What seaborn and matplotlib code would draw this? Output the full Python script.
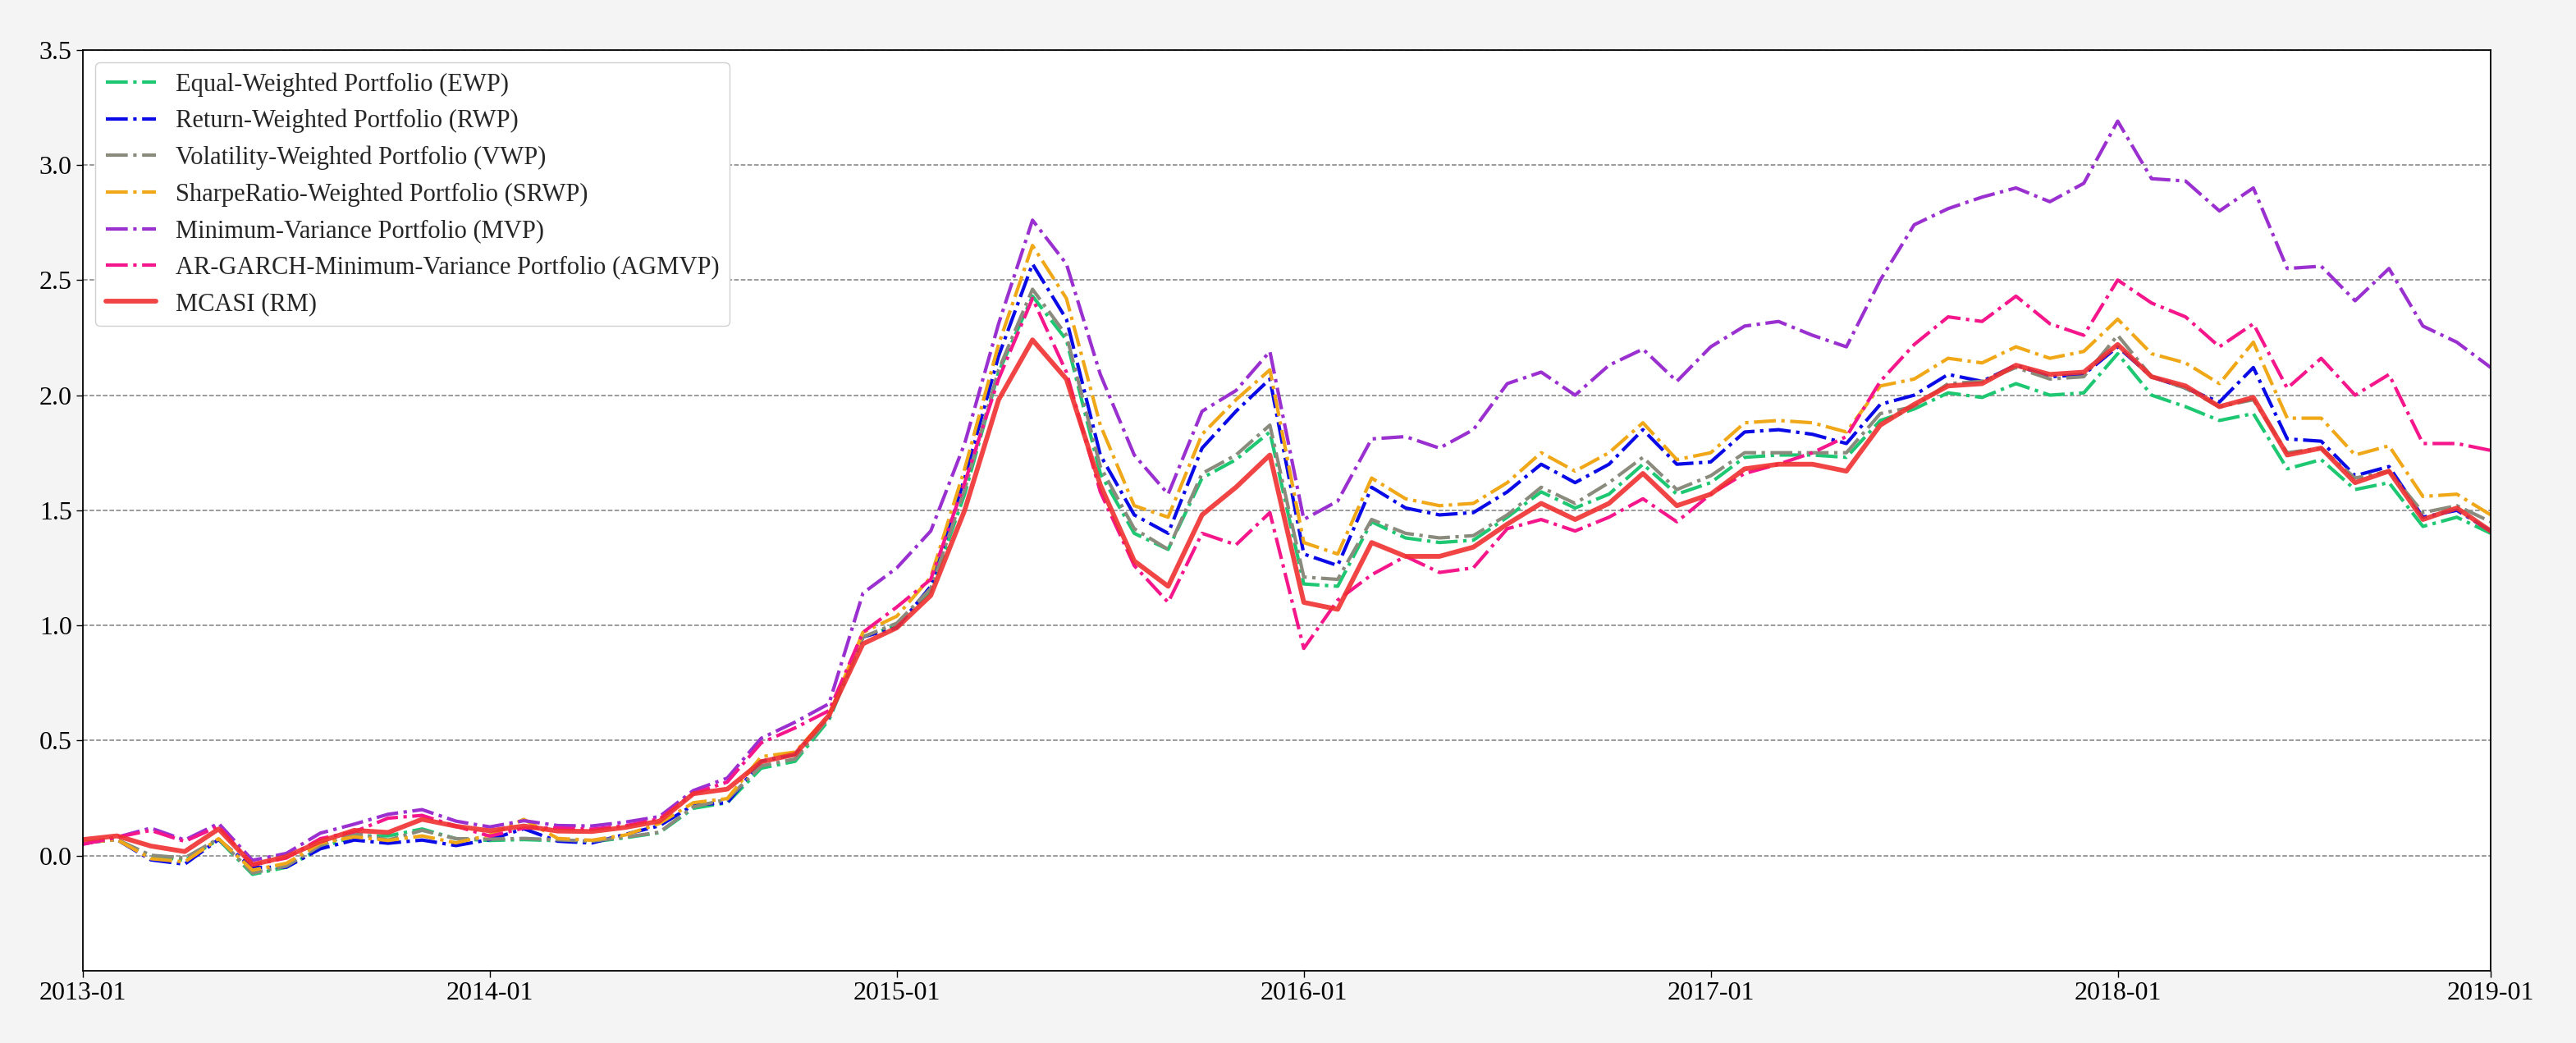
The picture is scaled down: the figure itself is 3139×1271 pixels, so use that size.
import numpy as np
import pandas as pd
import matplotlib
matplotlib.use("Agg")
import matplotlib.pyplot as plt
import seaborn as sns


# ── Data (cumulative returns, month-end 2013-01 .. 2018-12) ──────────────────
months = pd.date_range("2013-01-01", "2018-12-01", freq="MS").strftime("%Y-%m").tolist()

ewp = [0.056, 0.07, 0.0, -0.02, 0.07, -0.081, -0.05, 0.032, 0.086, 0.086, 0.116, 0.074,
       0.066, 0.07, 0.065, 0.06, 0.078, 0.10, 0.206, 0.23, 0.38, 0.41, 0.59, 0.95,
       1.00, 1.15, 1.57, 2.10, 2.43, 2.24, 1.66, 1.40, 1.33, 1.64, 1.72, 1.84,
       1.18, 1.17, 1.45, 1.38, 1.36, 1.37, 1.47, 1.58, 1.51, 1.57, 1.70, 1.57,
       1.62, 1.73, 1.74, 1.74, 1.73, 1.89, 1.94, 2.01, 1.99, 2.05, 2.00, 2.01,
       2.18, 2.00, 1.95, 1.89, 1.92, 1.68, 1.72, 1.59, 1.62, 1.43, 1.47, 1.40]

rwp = [0.056, 0.07, -0.018, -0.037, 0.07, -0.051, -0.05, 0.03, 0.068, 0.054, 0.068, 0.044,
       0.07, 0.117, 0.063, 0.055, 0.093, 0.13, 0.22, 0.23, 0.41, 0.44, 0.60, 0.95,
       0.99, 1.17, 1.64, 2.17, 2.57, 2.33, 1.74, 1.48, 1.40, 1.77, 1.93, 2.07,
       1.31, 1.26, 1.60, 1.51, 1.48, 1.49, 1.58, 1.70, 1.62, 1.70, 1.85, 1.70,
       1.71, 1.84, 1.85, 1.83, 1.79, 1.96, 2.00, 2.09, 2.06, 2.13, 2.08, 2.09,
       2.21, 2.08, 2.03, 1.97, 2.12, 1.81, 1.80, 1.65, 1.69, 1.47, 1.50, 1.41]

vwp = [0.056, 0.07, 0.002, -0.01, 0.074, -0.075, -0.045, 0.044, 0.098, 0.068, 0.11, 0.074,
       0.072, 0.075, 0.069, 0.063, 0.081, 0.102, 0.212, 0.245, 0.39, 0.42, 0.60, 0.95,
       1.01, 1.16, 1.59, 2.11, 2.46, 2.26, 1.69, 1.42, 1.33, 1.66, 1.74, 1.87,
       1.21, 1.20, 1.46, 1.40, 1.38, 1.39, 1.48, 1.60, 1.53, 1.62, 1.73, 1.59,
       1.65, 1.75, 1.75, 1.75, 1.75, 1.92, 1.95, 2.05, 2.06, 2.12, 2.07, 2.08,
       2.26, 2.08, 2.03, 1.95, 1.98, 1.75, 1.77, 1.64, 1.67, 1.49, 1.52, 1.45]

srwp = [0.056, 0.07, -0.013, -0.027, 0.074, -0.063, -0.033, 0.054, 0.082, 0.066, 0.086, 0.056,
        0.09, 0.158, 0.075, 0.067, 0.09, 0.14, 0.23, 0.248, 0.43, 0.45, 0.61, 0.97,
        1.04, 1.21, 1.68, 2.22, 2.65, 2.42, 1.87, 1.52, 1.47, 1.83, 1.98, 2.11,
        1.36, 1.31, 1.64, 1.55, 1.52, 1.53, 1.62, 1.75, 1.67, 1.75, 1.88, 1.72,
        1.75, 1.88, 1.89, 1.88, 1.84, 2.04, 2.07, 2.16, 2.14, 2.21, 2.16, 2.19,
        2.33, 2.18, 2.14, 2.05, 2.23, 1.90, 1.90, 1.74, 1.78, 1.56, 1.57, 1.48]

mvp = [0.05, 0.08, 0.12, 0.068, 0.14, -0.02, 0.01, 0.098, 0.137, 0.18, 0.20, 0.15,
       0.125, 0.152, 0.131, 0.129, 0.146, 0.17, 0.283, 0.337, 0.51, 0.58, 0.66, 1.14,
       1.25, 1.41, 1.79, 2.31, 2.76, 2.57, 2.09, 1.74, 1.57, 1.93, 2.02, 2.19,
       1.46, 1.54, 1.81, 1.82, 1.77, 1.85, 2.05, 2.10, 2.00, 2.13, 2.20, 2.06,
       2.21, 2.30, 2.32, 2.26, 2.21, 2.50, 2.74, 2.81, 2.86, 2.90, 2.84, 2.92,
       3.19, 2.94, 2.93, 2.80, 2.90, 2.55, 2.56, 2.41, 2.55, 2.30, 2.23, 2.12]

agmvp = [0.05, 0.08, 0.11, 0.062, 0.128, -0.04, -0.01, 0.074, 0.104, 0.163, 0.175, 0.128,
         0.085, 0.12, 0.12, 0.115, 0.13, 0.16, 0.27, 0.32, 0.49, 0.555, 0.63, 0.97,
         1.08, 1.20, 1.62, 2.07, 2.42, 2.10, 1.58, 1.26, 1.10, 1.40, 1.35, 1.49,
         0.90, 1.11, 1.22, 1.30, 1.23, 1.25, 1.42, 1.46, 1.41, 1.47, 1.55, 1.45,
         1.57, 1.66, 1.70, 1.75, 1.82, 2.06, 2.22, 2.34, 2.32, 2.43, 2.31, 2.26,
         2.50, 2.40, 2.34, 2.21, 2.31, 2.03, 2.16, 2.00, 2.09, 1.79, 1.79, 1.76]

rm = [0.070, 0.086, 0.042, 0.018, 0.116, -0.039, -0.004, 0.062, 0.110, 0.101, 0.158, 0.128,
      0.108, 0.129, 0.107, 0.105, 0.123, 0.150, 0.269, 0.289, 0.408, 0.440, 0.610, 0.920,
      0.99, 1.13, 1.50, 1.98, 2.24, 2.07, 1.61, 1.28, 1.17, 1.48, 1.60, 1.74,
      1.10, 1.07, 1.36, 1.30, 1.30, 1.34, 1.44, 1.53, 1.46, 1.53, 1.66, 1.52,
      1.57, 1.68, 1.70, 1.70, 1.67, 1.87, 1.96, 2.04, 2.05, 2.13, 2.09, 2.10,
      2.22, 2.08, 2.04, 1.95, 1.99, 1.74, 1.77, 1.62, 1.67, 1.46, 1.51, 1.41]

series_labels = [
    "Equal-Weighted Portfolio (EWP)",
    "Return-Weighted Portfolio (RWP)",
    "Volatility-Weighted Portfolio (VWP)",
    "SharpeRatio-Weighted Portfolio (SRWP)",
    "Minimum-Variance Portfolio (MVP)",
    "AR-GARCH-Minimum-Variance Portfolio (AGMVP)",
]
series_values = [ewp, rwp, vwp, srwp, mvp, agmvp]
series_colors = ["#1ec873", "#0a0ae6", "#8a8b7c", "#f0a818", "#9b30d0", "#f5168c"]

tick_labels = ["2013-01", "2014-01", "2015-01", "2016-01", "2017-01", "2018-01", "2019-01"]


# ── Style ─────────────────────────────────────────────────────────────────────
sns.set_style("white")
plt.rcParams["font.family"] = ["Liberation Serif", "DejaVu Serif"]
plt.rcParams["mathtext.fontset"] = "stix"

FIG_DPI = 100
fig = plt.figure(figsize=(31.39, 12.71), dpi=FIG_DPI, facecolor="#f4f4f4")
ax = fig.add_axes([0.0322, 0.0692, 0.9347, 0.8831])
ax.set_facecolor("white")

x = np.arange(len(months))

for label, vals, color in zip(series_labels, series_values, series_colors):
    sns.lineplot(x=x, y=vals, ax=ax, color=color, linestyle="-.", linewidth=3.0, label=label)

sns.lineplot(x=x, y=rm, ax=ax, color="#f03030", alpha=0.9, linewidth=4.2, label="MCASI (RM)")

# x ticks: yearly, last label at the right edge
tick_pos = [months.index(t) for t in tick_labels[:-1]] + [len(months) - 1]
ax.set_xticks(tick_pos)
ax.set_xticklabels(tick_labels)
ax.set_xlim(0, len(months) - 1)

ax.set_ylim(-0.5, 3.5)
ax.set_yticks(np.arange(0, 3.51, 0.5))
ax.set_yticklabels([f"{v:.1f}" for v in np.arange(0, 3.51, 0.5)])

ax.tick_params(axis="both", labelsize=23, direction="out", length=6, width=1.0,
               bottom=True, left=True, colors="black")
ax.yaxis.grid(True, linestyle="--", color="gray", linewidth=1.1)
ax.xaxis.grid(False)
ax.set_axisbelow(True)
for side in ["left", "right", "top", "bottom"]:
    ax.spines[side].set_color("black")
    ax.spines[side].set_linewidth(1.3)

ax.set_xlabel("")
ax.set_ylabel("")

leg = ax.legend(loc="upper left", fontsize=22, frameon=True, fancybox=True,
                edgecolor="#d0d0d0", framealpha=1.0)

fig.savefig("out.png", dpi=FIG_DPI, facecolor=fig.get_facecolor())
